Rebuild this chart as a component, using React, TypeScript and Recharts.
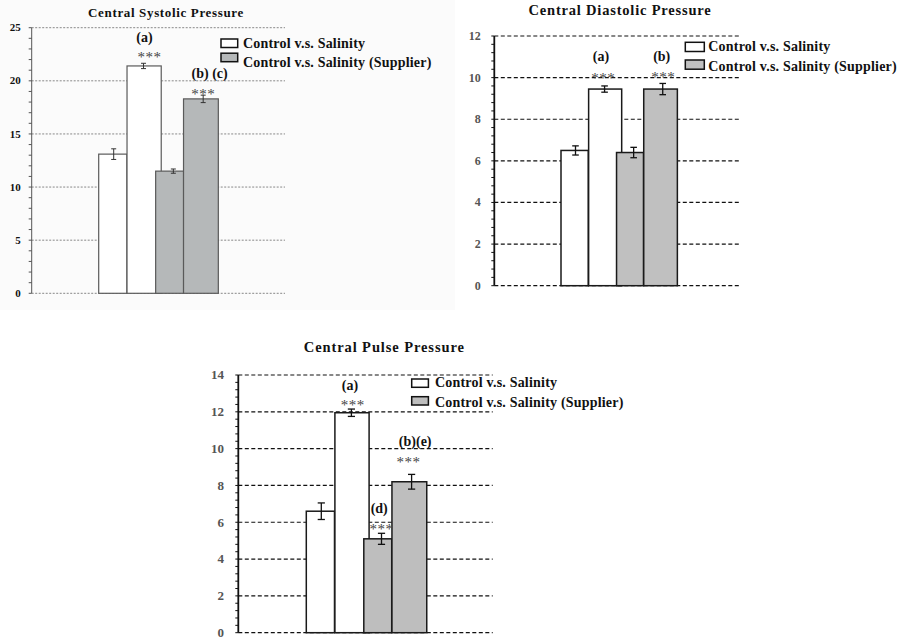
import { Bar, BarChart, ErrorBar, LabelList, ReferenceLine, XAxis, YAxis } from "recharts";

const categories = ["Control", "Salinity", "Control (Supplier)", "Salinity (Supplier)"];
const legendLabels = ["Control v.s. Salinity", "Control v.s. Salinity (Supplier)"];
const isSupplier = [false, false, true, true];

// Central Systolic Pressure
const systolicMean = [13.1, 21.4, 11.5, 18.3];
const systolicErr = [0.5, 0.25, 0.2, 0.35];
const systolicTags = ["", "(a)", "", "(b) (c)"];
const systolicStars = ["", "***", "", "***"];
const systolicTicks = [0, 5, 10, 15, 20, 25];

// Central Diastolic Pressure
const diastolicMean = [6.5, 9.45, 6.4, 9.45];
const diastolicErr = [0.22, 0.15, 0.25, 0.27];
const diastolicTags = ["", "(a)", "", "(b)"];
const diastolicStars = ["", "***", "", "***"];
const diastolicTicks = [0, 2, 4, 6, 8, 10, 12];

// Central Pulse Pressure
const pulseMean = [6.6, 11.95, 5.1, 8.2];
const pulseErr = [0.45, 0.2, 0.3, 0.4];
const pulseTags = ["", "(a)", "(d)", "(b)(e)"];
const pulseStars = ["", "***", "***", "***"];
const pulseTicks = [0, 2, 4, 6, 8, 10, 12, 14];

const SERIF = '"Liberation Serif", "Times New Roman", serif';

// bars in the original are a little uneven: shift / span relative to each slot
const barShift = [0, -0.05, -0.09, -0.155];
const barSpan = [0.94, 1.14, 0.93, 1.16];

type PanelCfg = {
  title: string;
  titleX: number;
  titleY: number;
  titleSize: number;
  titleSpacing: number;
  mean: number[];
  err: number[];
  tags: string[];
  stars: string[];
  ticks: number[];
  minorStep: number;
  left: number;
  top: number;
  width: number;
  height: number;
  margin: { top: number; right: number; bottom: number; left: number };
  yWidth: number;
  pad: { left: number; right: number };
  gray: string;
  barStroke: string;
  barStrokeW: number;
  axisColor: string;
  axisW: number;
  gridColor: string;
  gridDash: string;
  gridW: number;
  tickFont: number;
  tickColor: string;
  tickMargin: number;
  errHalf: number;
  errColor: string;
  errW: number;
  tagDx: number[];
  starDx: number[];
  tagLift: number[];
  starLift: number[];
  legend: {
    boxX: number;
    boxW: number;
    boxH: number;
    boxY: number[];
    textX: number;
    textY: number[];
    size: number;
  };
};

const panels: PanelCfg[] = [
  {
    title: "Central Systolic Pressure",
    titleX: 166,
    titleY: 16.8,
    titleSize: 13,
    titleSpacing: 0.65,
    mean: systolicMean,
    err: systolicErr,
    tags: systolicTags,
    stars: systolicStars,
    ticks: systolicTicks,
    minorStep: 1,
    left: 0,
    top: 0,
    width: 300,
    height: 310,
    margin: { top: 27.7, right: 15, bottom: 16.7, left: 0 },
    yWidth: 31.7,
    pad: { left: 67, right: 67 },
    gray: "#b5b8b9",
    barStroke: "#5a5a5a",
    barStrokeW: 1.2,
    axisColor: "#555",
    axisW: 1,
    gridColor: "#888",
    gridDash: "2 1.5",
    gridW: 1,
    tickFont: 11,
    tickColor: "#111",
    tickMargin: 8,
    errHalf: 2.5,
    errColor: "#333",
    errW: 1,
    tagDx: [0, 1, 0, 6.5],
    starDx: [0, 6, 0, 0],
    tagLift: [0, 24.3, 0, 20.7],
    starLift: [0, 8.3, 0, 2.7],
    legend: { boxX: 221, boxW: 16.7, boxH: 8.5, boxY: [39, 53.2], textX: 243, textY: [47.5, 66.7], size: 14 },
  },
  {
    title: "Central Diastolic Pressure",
    titleX: 620,
    titleY: 14.8,
    titleSize: 14.5,
    titleSpacing: 0.8,
    mean: diastolicMean,
    err: diastolicErr,
    tags: diastolicTags,
    stars: diastolicStars,
    ticks: diastolicTicks,
    minorStep: 0.4,
    left: 460,
    top: 0,
    width: 300,
    height: 300,
    margin: { top: 36, right: 19, bottom: 14.3, left: 0 },
    yWidth: 34.3,
    pad: { left: 66.7, right: 63.7 },
    gray: "#c0c0c0",
    barStroke: "#1a1a1a",
    barStrokeW: 1.5,
    axisColor: "#111",
    axisW: 1.8,
    gridColor: "#111",
    gridDash: "4 2.5",
    gridW: 1.2,
    tickFont: 12,
    tickColor: "#555",
    tickMargin: 10.6,
    errHalf: 3.3,
    errColor: "#111",
    errW: 1.3,
    tagDx: [0, -3.6, 0, -1],
    starDx: [0, -1.3, 0, 0.5],
    tagLift: [0, 28, 0, 26],
    starLift: [0, 10.3, 0, 8],
    legend: { boxX: 685.3, boxW: 19, boxH: 9.2, boxY: [42.3, 60], textX: 708.3, textY: [50.7, 71], size: 14 },
  },
  {
    title: "Central Pulse Pressure",
    titleX: 384.3,
    titleY: 352,
    titleSize: 14.5,
    titleSpacing: 0.9,
    mean: pulseMean,
    err: pulseErr,
    tags: pulseTags,
    stars: pulseStars,
    ticks: pulseTicks,
    minorStep: 0.4,
    left: 190,
    top: 340,
    width: 320,
    height: 302,
    margin: { top: 35, right: 17.3, bottom: 9.3, left: 0 },
    yWidth: 48.3,
    pad: { left: 68, right: 66 },
    gray: "#bebebe",
    barStroke: "#1a1a1a",
    barStrokeW: 1.5,
    axisColor: "#111",
    axisW: 1.8,
    gridColor: "#111",
    gridDash: "4 2.5",
    gridW: 1.2,
    tickFont: 13,
    tickColor: "#555",
    tickMargin: 11.3,
    errHalf: 3.6,
    errColor: "#111",
    errW: 1.3,
    tagDx: [0, -1.5, -2.3, 3.6],
    starDx: [0, 1.3, 0, -3.2],
    tagLift: [0, 23, 24.3, 32],
    starLift: [0, 5.7, 6.6, 14],
    legend: { boxX: 411.7, boxW: 16.7, boxH: 8.3, boxY: [379, 396.7], textX: 435, textY: [387.3, 407.3], size: 14 },
  },
];

function tickValues(majors: number[], step: number) {
  const max = majors[majors.length - 1];
  const out: number[] = [];
  const n = Math.round(max / step);
  for (let k = 0; k <= n; k++) out.push(Math.round(k * step * 1000) / 1000);
  majors.forEach((m) => {
    if (!out.some((v) => Math.abs(v - m) < 1e-6)) out.push(m);
  });
  return out.sort((a, b) => a - b);
}

function Panel({ cfg }: { cfg: PanelCfg }) {
  const rows = categories.map((name, i) => ({ name, mean: cfg.mean[i], err: cfg.err[i] }));
  const fills = isSupplier.map((s) => (s ? cfg.gray : "#ffffff"));
  const allTicks = tickValues(cfg.ticks, cfg.minorStep);
  const max = cfg.ticks[cfg.ticks.length - 1];

  const renderTick = (p: any) => {
    const v = p.payload?.value;
    if (!cfg.ticks.some((t) => Math.abs(t - v) < 1e-6)) return <g />;
    return (
      <text
        x={p.x}
        y={p.y}
        dy={cfg.tickFont * 0.33}
        textAnchor="end"
        fontFamily={SERIF}
        fontWeight="bold"
        fontSize={cfg.tickFont}
        fill={cfg.tickColor}
      >
        {v}
      </text>
    );
  };

  const renderShape = (p: any) => {
    const i = p.index;
    const x = p.x + barShift[i] * p.width;
    const w = barSpan[i] * p.width;
    return (
      <rect
        x={x}
        y={p.y}
        width={w}
        height={p.height}
        fill={fills[i]}
        stroke={cfg.barStroke}
        strokeWidth={cfg.barStrokeW}
      />
    );
  };

  const renderAnn = (p: any) => {
    const i = p.index;
    if (i == null || (!cfg.tags[i] && !cfg.stars[i])) return null;
    const vb = p.viewBox ?? p;
    const x = vb.x ?? p.x;
    const y = vb.y ?? p.y;
    const width = vb.width ?? p.width;
    const height = vb.height ?? p.height;
    const perUnit = height / cfg.mean[i];
    const errTop = y - cfg.err[i] * perUnit;
    const cx = x + width / 2;
    return (
      <g>
        {cfg.stars[i] && (
          <text
            x={cx + cfg.starDx[i]}
            y={errTop - cfg.starLift[i] + 7}
            textAnchor="middle"
            fontFamily={SERIF}
            fontSize={15}
            letterSpacing={0.5}
            fill="#444"
          >
            {cfg.stars[i]}
          </text>
        )}
        {cfg.tags[i] && (
          <text
            x={cx + cfg.tagDx[i]}
            y={errTop - cfg.tagLift[i] + 3.5}
            textAnchor="middle"
            fontFamily={SERIF}
            fontWeight="bold"
            fontSize={14}
            fill="#111"
          >
            {cfg.tags[i]}
          </text>
        )}
      </g>
    );
  };

  return (
    <div style={{ position: "absolute", left: cfg.left, top: cfg.top }}>
      <BarChart
        width={cfg.width}
        height={cfg.height}
        data={rows}
        margin={cfg.margin}
        barCategoryGap={0}
        barGap={0}
      >
        {cfg.ticks.map((v) => (
          <ReferenceLine
            key={v}
            y={v}
            stroke={cfg.gridColor}
            strokeDasharray={cfg.gridDash}
            strokeWidth={cfg.gridW}
            zIndex={-100}
          />
        ))}
        <XAxis dataKey="name" hide padding={cfg.pad} />
        <YAxis
          type="number"
          domain={[0, max]}
          ticks={allTicks}
          interval={0}
          width={cfg.yWidth}
          tickSize={3}
          tickMargin={cfg.tickMargin}
          axisLine={{ stroke: cfg.axisColor, strokeWidth: cfg.axisW }}
          tickLine={{ stroke: cfg.axisColor, strokeWidth: 1 }}
          tick={renderTick}
        />
        <Bar dataKey="mean" isAnimationActive={false} shape={renderShape}>
          <ErrorBar dataKey="err" width={cfg.errHalf} stroke={cfg.errColor} strokeWidth={cfg.errW} />
          <LabelList dataKey="mean" content={renderAnn} />
        </Bar>
      </BarChart>
    </div>
  );
}

function Headings() {
  return (
    <svg width={902} height={642} style={{ position: "absolute", left: 0, top: 0 }}>
      <rect x={0} y={0} width={455} height={310} fill="#fbfbfb" />
      {panels.map((cfg) => (
        <g key={cfg.title}>
          <text
            x={cfg.titleX}
            y={cfg.titleY}
            textAnchor="middle"
            fontFamily={SERIF}
            fontWeight="bold"
            fontSize={cfg.titleSize}
            letterSpacing={cfg.titleSpacing}
            fill="#111"
          >
            {cfg.title}
          </text>
          {legendLabels.map((label, k) => (
            <g key={label}>
              <rect
                x={cfg.legend.boxX}
                y={cfg.legend.boxY[k]}
                width={cfg.legend.boxW}
                height={cfg.legend.boxH}
                fill={k === 0 ? "#ffffff" : cfg.gray}
                stroke="#111"
                strokeWidth={1.5}
              />
              <text
                x={cfg.legend.textX}
                y={cfg.legend.textY[k]}
                fontFamily={SERIF}
                fontWeight="bold"
                fontSize={cfg.legend.size}
                letterSpacing={0.2}
                fill="#111"
              >
                {label}
              </text>
            </g>
          ))}
        </g>
      ))}
    </svg>
  );
}

export default function App() {
  return (
    <div
      style={{
        position: "absolute",
        left: 0,
        top: 0,
        width: 902,
        height: 642,
        background: "#ffffff",
        overflow: "hidden",
      }}
    >
      <Headings />
      {panels.map((cfg) => (
        <Panel key={cfg.title} cfg={cfg} />
      ))}
    </div>
  );
}
